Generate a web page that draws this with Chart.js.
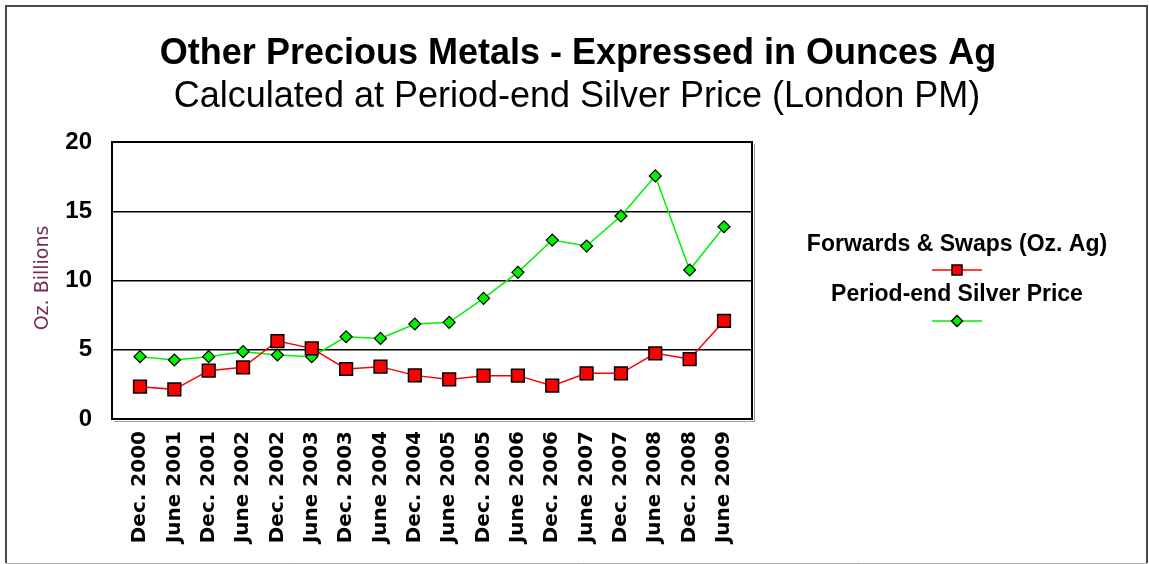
<!DOCTYPE html>
<html>
<head>
<meta charset="utf-8">
<script src="https://cdn.jsdelivr.net/npm/chart.js@4.4.1/dist/chart.umd.min.js"></script>
<style>
  html, body { margin: 0; padding: 0; background: #fff; }
  #wrap { position: relative; width: 1149px; height: 564px; }
</style>
</head>
<body>
<div id="wrap"><canvas id="metalsChart"></canvas></div>
<script>
// Period labels along the x axis
const periods = [
    'Dec. 2000', 'June 2001', 'Dec. 2001', 'June 2002', 'Dec. 2002', 'June 2003',
    'Dec. 2003', 'June 2004', 'Dec. 2004', 'June 2005', 'Dec. 2005', 'June 2006',
    'Dec. 2006', 'June 2007', 'Dec. 2007', 'June 2008', 'Dec. 2008', 'June 2009'
];

// Forwards & Swaps, in billions of ounces of silver
const forwardsSwaps = [
    2.33, 2.14, 3.49, 3.73, 5.63, 5.10, 3.61, 3.78, 3.15,
    2.86, 3.13, 3.13, 2.41, 3.30, 3.30, 4.74, 4.33, 7.08
];

// Period-end silver price series
const silverPrice = [
    4.50, 4.26, 4.50, 4.86, 4.62, 4.50, 5.94, 5.82, 6.86,
    6.98, 8.71, 10.59, 12.92, 12.49, 14.66, 17.55, 10.76, 13.88
];

const yTicks = [0, 5, 10, 15, 20];

const seriesNames = ['Forwards & Swaps (Oz. Ag)', 'Period-end Silver Price'];

const toPoints = (values) => values.map((v, i) => ({ x: i, y: v }));

// Draws the outer frame, titles, axis title, plot frame and the legend
const decorations = {
    id: 'decorations',
    beforeDraw(chart) {
        const ctx = chart.ctx;
        ctx.save();
        ctx.fillStyle = '#fff';
        ctx.fillRect(0, 0, chart.width, chart.height);
        // outer frame
        ctx.strokeStyle = '#4a4a4a';
        ctx.lineWidth = 2;
        ctx.beginPath();
        ctx.moveTo(6, 563);
        ctx.lineTo(6, 6);
        ctx.lineTo(1147, 6);
        ctx.lineTo(1147, 563);
        ctx.stroke();
        ctx.strokeStyle = '#b0b0b0';
        ctx.lineWidth = 1;
        ctx.beginPath();
        ctx.moveTo(6, 563.5);
        ctx.lineTo(1147, 563.5);
        ctx.stroke();

        // titles
        ctx.fillStyle = '#000';
        ctx.textAlign = 'center';
        ctx.textBaseline = 'alphabetic';
        ctx.font = "bold 36px 'Liberation Sans', Arial, sans-serif";
        ctx.fillText('Other Precious Metals - Expressed in Ounces Ag', 578, 64);
        ctx.font = "36px 'Liberation Sans', Arial, sans-serif";
        ctx.fillText('Calculated at Period-end Silver Price (London PM)', 577, 107);

        // y axis title
        ctx.save();
        ctx.translate(43, 278);
        ctx.rotate(-Math.PI / 2);
        ctx.fillStyle = '#7b2d5a';
        ctx.font = "19px 'DejaVu Sans', sans-serif";
        ctx.textBaseline = 'middle';
        ctx.fillText('Oz. Billions', 0, 0);
        ctx.restore();
        ctx.restore();
    },
    beforeDatasetsDraw(chart) {
        const { ctx, chartArea: a } = chart;
        ctx.save();
        // soft shadow on right / bottom
        ctx.strokeStyle = '#a0a0a0';
        ctx.lineWidth = 1;
        ctx.beginPath();
        ctx.moveTo(a.left + 2, a.bottom + 2.5);
        ctx.lineTo(a.right + 2.5, a.bottom + 2.5);
        ctx.lineTo(a.right + 2.5, a.top + 2);
        ctx.stroke();
        ctx.strokeStyle = '#000';
        ctx.lineWidth = 2;
        ctx.strokeRect(a.left, a.top, a.right - a.left, a.bottom - a.top);
        ctx.restore();
    },
    afterDraw(chart) {
        const ctx = chart.ctx;
        ctx.save();
        ctx.textAlign = 'center';
        ctx.textBaseline = 'middle';
        ctx.font = "bold 23px 'Liberation Sans', Arial, sans-serif";
        const rows = [
            { textY: 245, sampleY: 270 },
            { textY: 295, sampleY: 321 }
        ];
        chart.data.datasets.forEach((ds, i) => {
            const r = rows[i];
            ctx.fillStyle = '#000';
            ctx.fillText(ds.label, 957, r.textY);
            ctx.strokeStyle = ds.borderColor;
            ctx.lineWidth = 1.5;
            ctx.beginPath();
            ctx.moveTo(932, r.sampleY);
            ctx.lineTo(982, r.sampleY);
            ctx.stroke();
            ctx.fillStyle = ds.pointBackgroundColor;
            ctx.strokeStyle = ds.pointBorderColor;
            ctx.lineWidth = 1.5;
            ctx.beginPath();
            if (i === 0) {
                ctx.rect(952, r.sampleY - 5, 10, 10);
            } else {
                ctx.moveTo(957, r.sampleY - 5.5);
                ctx.lineTo(962.5, r.sampleY);
                ctx.lineTo(957, r.sampleY + 5.5);
                ctx.lineTo(951.5, r.sampleY);
                ctx.closePath();
            }
            ctx.fill();
            ctx.stroke();
        });
        ctx.restore();
    }
};

const config = {
    type: 'line',
    data: {
        datasets: [
            {
                label: seriesNames[0],
                data: toPoints(forwardsSwaps),
                borderColor: '#ff0000',
                borderWidth: 1.5,
                pointStyle: 'rect',
                pointRadius: 9,
                pointBackgroundColor: '#ff0000',
                pointBorderColor: '#000',
                pointBorderWidth: 1.5,
                tension: 0
            },
            {
                label: seriesNames[1],
                data: toPoints(silverPrice),
                borderColor: '#00f000',
                borderWidth: 1.5,
                pointStyle: 'rectRot',
                pointRadius: 6,
                pointBackgroundColor: '#00f000',
                pointBorderColor: '#000',
                pointBorderWidth: 1.2,
                tension: 0
            }
        ]
    },
    options: {
        responsive: true,
        maintainAspectRatio: false,
        animation: false,
        layout: { padding: { top: 142, right: 397, left: 0, bottom: 0 } },
        plugins: {
            legend: { display: false },
            title: { display: false },
            tooltip: { enabled: false }
        },
        scales: {
            x: {
                type: 'linear',
                min: -0.815,
                max: periods.length - 1 + 0.815,
                afterBuildTicks: (scale) => {
                    scale.ticks = periods.map((_, i) => ({ value: i }));
                },
                afterFit: (scale) => { scale.height = 145; },
                grid: { display: false, drawTicks: false },
                border: { display: false },
                ticks: {
                    autoSkip: false,
                    minRotation: 90,
                    maxRotation: 90,
                    padding: 12,
                    color: '#000',
                    font: { family: "'DejaVu Sans', sans-serif", size: 20, weight: 'bold' },
                    callback: (value) => periods[value]
                }
            },
            y: {
                min: 0,
                max: 20,
                afterBuildTicks: (scale) => {
                    scale.ticks = yTicks.map(v => ({ value: v }));
                },
                afterFit: (scale) => { scale.width = 112; },
                grid: { color: '#000', lineWidth: 1.5, drawTicks: false },
                border: { display: false },
                ticks: {
                    padding: 20,
                    color: '#000',
                    font: { family: "'Liberation Sans', Arial, sans-serif", size: 24, weight: 'bold' }
                }
            }
        }
    },
    plugins: [decorations]
};

new Chart(document.getElementById('metalsChart'), config);
</script>
</body>
</html>
